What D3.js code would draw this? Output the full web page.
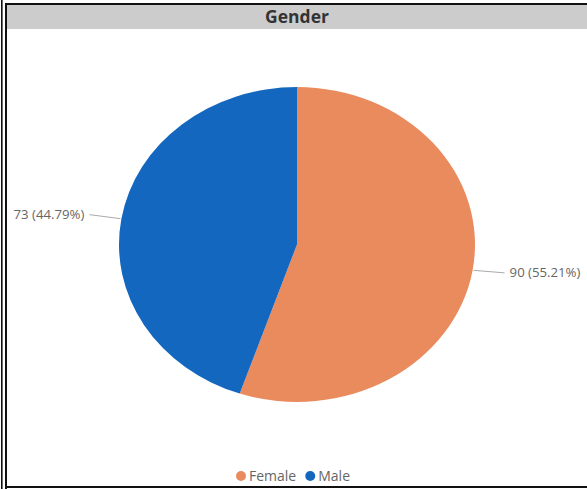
<!DOCTYPE html>
<html>
<head>
<meta charset="utf-8">
<script src="https://cdn.jsdelivr.net/npm/d3@7"></script>
<style>
  body { margin: 0; background: #fff; }
  svg { display: block; font-family: "Open Sans", "Noto Sans", sans-serif; }
</style>
</head>
<body>
<svg id="chart" width="587" height="489"></svg>
<script>
const categories = ["Female", "Male"];
const counts = [90, 73];
const percents = ["55.21%", "44.79%"];
const colors = ["#EA8B5E", "#1467BE"];

const svg = d3.select("#chart");

// frame
svg.append("rect").attr("x", 1).attr("y", 0).attr("width", 1.6).attr("height", 489).attr("fill", "#111");
svg.append("path")
  .attr("d", "M6,489 V4 H587 M6,487 H587")
  .attr("fill", "none").attr("stroke", "#111").attr("stroke-width", 2);

// title bar
svg.append("rect").attr("x", 7).attr("y", 5).attr("width", 580).attr("height", 24).attr("fill", "#cccccc");
svg.append("text")
  .attr("x", 297).attr("y", 22.5)
  .attr("text-anchor", "middle")
  .attr("font-size", 17.5).attr("font-weight", "bold")
  .attr("fill", "#333")
  .text("Gender");

// pie (ellipse: drawn as circle and squashed vertically)
const cx = 297, cy = 244.5, rx = 178, ry = 157.5;
const data = categories.map((c, i) => ({ name: c, value: counts[i], pct: percents[i], color: colors[i] }));
const pie = d3.pie().sort(null).value(d => d.value);
const arcs = pie(data);
const arc = d3.arc().innerRadius(0).outerRadius(rx);

svg.append("g")
  .attr("transform", `translate(${cx},${cy}) scale(1,${ry / rx})`)
  .selectAll("path")
  .data(arcs)
  .enter()
  .append("path")
  .attr("d", arc)
  .attr("fill", d => d.data.color);

// leader lines + labels
arcs.forEach(d => {
  const a = (d.startAngle + d.endAngle) / 2;
  const x0 = cx + (rx + 1) * Math.sin(a);
  const y0 = cy - (ry + 1) * Math.cos(a);
  const dir = Math.sin(a) >= 0 ? 1 : -1;
  const x1 = x0 + dir * 31;
  const y1 = y0 + (dir > 0 ? 2.5 : -4);
  svg.append("line")
    .attr("x1", x0).attr("y1", y0).attr("x2", x1).attr("y2", y1)
    .attr("stroke", "#aaa").attr("stroke-width", 1);
  svg.append("text")
    .attr("x", x1 + dir * 5).attr("y", y1 + 4.5)
    .attr("text-anchor", dir > 0 ? "start" : "end")
    .attr("font-size", 13.2)
    .attr("fill", "#666")
    .text(`${d.data.value} (${d.data.pct})`);
});

// legend
const legend = svg.append("g").attr("transform", "translate(241,476)");
let lx = 0;
data.forEach(d => {
  legend.append("circle").attr("cx", lx).attr("cy", 0).attr("r", 5).attr("fill", d.color);
  const t = legend.append("text")
    .attr("x", lx + 8).attr("y", 5)
    .attr("font-size", 14).attr("fill", "#666")
    .text(d.name);
  lx += 8 + t.node().getComputedTextLength() + 14;
});
</script>
</body>
</html>
